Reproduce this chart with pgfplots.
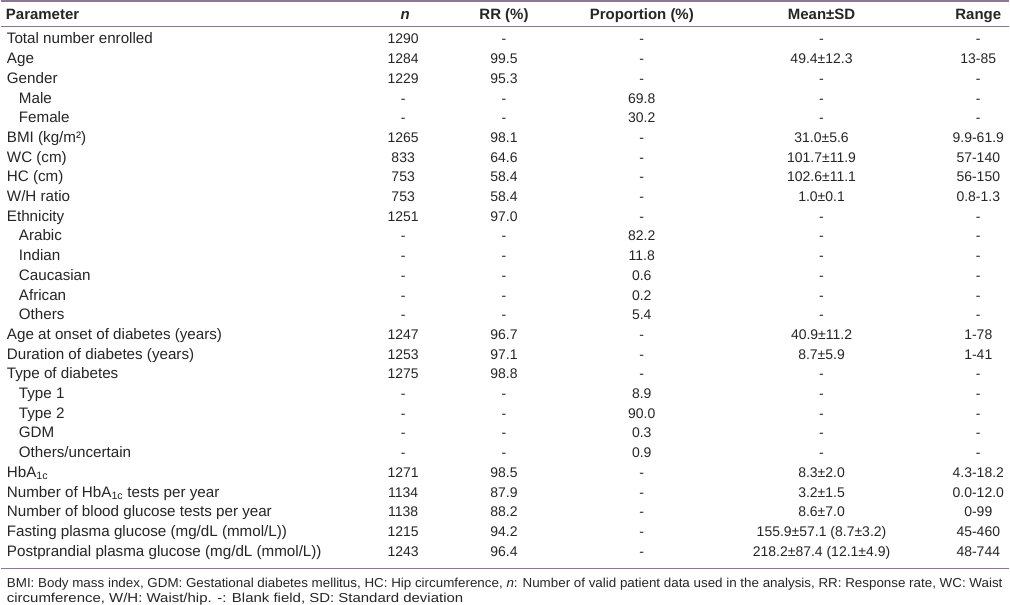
\documentclass[border=0pt]{standalone}
\usepackage{pgfplots}
\pgfplotsset{compat=1.18}
\usepackage{pgfplotstable}
\usepackage{graphicx}
\usepackage{fontspec}
\setmainfont{Liberation Sans}
\definecolor{rulecol}{RGB}{142,118,150}
\protected\def\HbA{HbA\textsubscript{1c}}

\pgfplotstableread[col sep=semicolon]{
x;r;v
6;0;Total number enrolled
6;1;Age
6;2;Gender
18;3;Male
18;4;Female
6;5;BMI (kg/m²)
6;6;WC (cm)
6;7;HC (cm)
6;8;W/H ratio
6;9;Ethnicity
18;10;Arabic
18;11;Indian
18;12;Caucasian
18;13;African
18;14;Others
6;15;Age at onset of diabetes (years)
6;16;Duration of diabetes (years)
6;17;Type of diabetes
18;18;Type 1
18;19;Type 2
18;20;GDM
18;21;Others/uncertain
6;22;\HbA
6;23;Number of \HbA\ tests per year
6;24;Number of blood glucose tests per year
6;25;Fasting plasma glucose (mg/dL (mmol/L))
6;26;Postprandial plasma glucose (mg/dL (mmol/L))
}\paramtable

\pgfplotstableread[col sep=semicolon]{
r;n;rr;p;m;g
0;1290;-;-;-;-
1;1284;99.5;-;49.4±12.3;13-85
2;1229;95.3;-;-;-
3;-;-;69.8;-;-
4;-;-;30.2;-;-
5;1265;98.1;-;31.0±5.6;9.9-61.9
6;833;64.6;-;101.7±11.9;57-140
7;753;58.4;-;102.6±11.1;56-150
8;753;58.4;-;1.0±0.1;0.8-1.3
9;1251;97.0;-;-;-
10;-;-;82.2;-;-
11;-;-;11.8;-;-
12;-;-;0.6;-;-
13;-;-;0.2;-;-
14;-;-;5.4;-;-
15;1247;96.7;-;40.9±11.2;1-78
16;1253;97.1;-;8.7±5.9;1-41
17;1275;98.8;-;-;-
18;-;-;8.9;-;-
19;-;-;90.0;-;-
20;-;-;0.3;-;-
21;-;-;0.9;-;-
22;1271;98.5;-;8.3±2.0;4.3-18.2
23;1134;87.9;-;3.2±1.5;0.0-12.0
24;1138;88.2;-;8.6±7.0;0-99
25;1215;94.2;-;155.9±57.1 (8.7±3.2);45-460
26;1243;96.4;-;218.2±87.4 (12.1±4.9);48-744
}\valtable

\begin{document}
\begin{tikzpicture}
\begin{axis}[
  width=1010pt, height=604pt, scale only axis,
  xmin=0, xmax=1010, ymin=0, ymax=604, y dir=reverse,
  hide axis, clip=false,
  txt/.style={only marks, mark=*, mark size=0pt,
    mark options={draw=none, fill=none},
    nodes near coords, point meta=explicit symbolic,
    every node near coord/.append style={inner sep=0pt, anchor=base,
      font=\fontsize{14}{17}\selectfont, text=black!85}},
]
\fill[white] (axis cs:0,0) rectangle (axis cs:1010,604);
\draw[rulecol, line width=1.5pt] (axis cs:0,1) -- (axis cs:1010,1);
\draw[rulecol, line width=1.2pt] (axis cs:0,26.5) -- (axis cs:1010,26.5);
\draw[rulecol, line width=1.2pt] (axis cs:0,569) -- (axis cs:1010,569);

% header
\begin{scope}[every node/.style={inner sep=0pt, font=\fontsize{15}{17}\selectfont\bfseries, text=black!85}]
\node[anchor=base west] at (axis cs:5,19.5) {Parameter};
\node[anchor=base] at (axis cs:405,19.5) {\textit{n}};
\node[anchor=base] at (axis cs:504,19.5) {RR (\%)};
\node[anchor=base] at (axis cs:642,19.5) {Proportion (\%)};
\node[anchor=base] at (axis cs:822,19.5) {Mean±SD};
\node[anchor=base] at (axis cs:979,19.5) {Range};
\end{scope}

\addplot[txt, every node near coord/.append style={anchor=base west, font=\fontsize{15.2}{17}\selectfont}]
  table[x=x, y expr=44+19.73*\thisrow{r}, meta=v] {\paramtable};
\addplot[txt] table[x expr=403, y expr=44+19.73*\thisrow{r}, meta=n] {\valtable};
\addplot[txt] table[x expr=504, y expr=44+19.73*\thisrow{r}, meta=rr] {\valtable};
\addplot[txt] table[x expr=642, y expr=44+19.73*\thisrow{r}, meta=p] {\valtable};
\addplot[txt] table[x expr=822, y expr=44+19.73*\thisrow{r}, meta=m] {\valtable};
\addplot[txt] table[x expr=979, y expr=44+19.73*\thisrow{r}, meta=g] {\valtable};

\begin{scope}[every node/.style={anchor=base west, inner sep=0pt, text=black!85, font=\fontsize{13}{15}\selectfont}]
\node at (axis cs:6,588) {\resizebox{997pt}{\height}{BMI: Body mass index, GDM: Gestational diabetes mellitus, HC: Hip circumference, \textit{n}: Number of valid patient data used in the analysis, RR: Response rate, WC: Waist}};
\node at (axis cs:6,603) {\resizebox{457pt}{\height}{circumference, W/H: Waist/hip. -: Blank field, SD: Standard deviation}};
\end{scope}
\end{axis}
\end{tikzpicture}
\end{document}
